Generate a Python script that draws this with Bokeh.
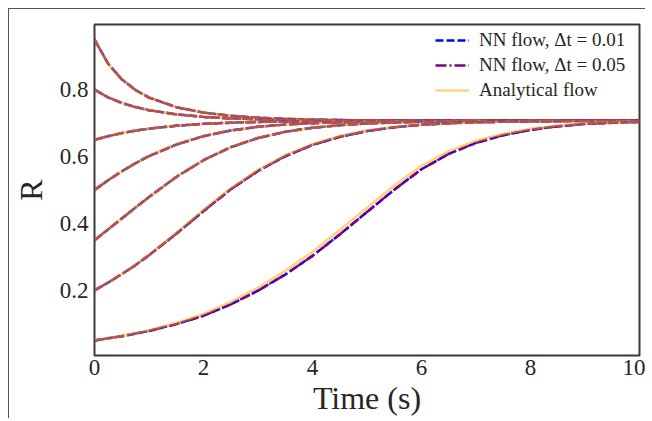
from bokeh.plotting import figure
from bokeh.models import Range1d, Legend, LegendItem, FixedTicker
from bokeh.embed import file_html
from bokeh.resources import INLINE

# ---- data ----
t = [0, 0.25, 0.5, 0.75, 1, 1.5, 2, 2.5, 3, 3.5, 4, 4.5, 5, 5.5, 6, 6.5, 7, 7.5, 8, 8.5, 9, 9.5, 10]

an_a = [0.950, 0.8776, 0.8310, 0.7992, 0.7765, 0.7477, 0.7314, 0.7219, 0.7161, 0.7127, 0.7105, 0.7092, 0.7084, 0.7079, 0.7076, 0.7074, 0.7073, 0.7072, 0.7072, 0.7071, 0.7071, 0.7071, 0.7071]
an_b = [0.8000, 0.7771, 0.7604, 0.7480, 0.7387, 0.7262, 0.7187, 0.7142, 0.7115, 0.7098, 0.7088, 0.7081, 0.7078, 0.7075, 0.7074, 0.7073, 0.7072, 0.7072, 0.7071, 0.7071, 0.7071, 0.7071, 0.7071]
an_c = [0.6500, 0.6610, 0.6701, 0.6775, 0.6835, 0.6922, 0.6978, 0.7013, 0.7035, 0.7049, 0.7057, 0.7063, 0.7066, 0.7068, 0.7069, 0.7070, 0.7070, 0.7071, 0.7071, 0.7071, 0.7071, 0.7071, 0.7071]
an_d = [0.5000, 0.5290, 0.5558, 0.5799, 0.6013, 0.6358, 0.6610, 0.6780, 0.6890, 0.6958, 0.7000, 0.7026, 0.7043, 0.7053, 0.7060, 0.7064, 0.7067, 0.7069, 0.7070, 0.7070, 0.7071, 0.7071, 0.7071]
an_e = [0.3500, 0.3821, 0.4147, 0.4472, 0.4789, 0.5390, 0.5890, 0.6280, 0.6555, 0.6740, 0.6862, 0.6940, 0.6990, 0.7020, 0.7039, 0.7051, 0.7059, 0.7063, 0.7066, 0.7068, 0.7069, 0.7070, 0.7070]
an_f = [0.2000, 0.2231, 0.2482, 0.2760, 0.3060, 0.3710, 0.4400, 0.5050, 0.5600, 0.6040, 0.6370, 0.6610, 0.6775, 0.6885, 0.6952, 0.6996, 0.7024, 0.7042, 0.7053, 0.7059, 0.7064, 0.7067, 0.7068]
an_g = [0.0500, 0.0563, 0.0635, 0.0715, 0.0805, 0.1019, 0.1290, 0.1650, 0.2080, 0.2580, 0.3150, 0.3800, 0.4470, 0.5130, 0.5720, 0.6160, 0.6470, 0.6680, 0.6830, 0.6925, 0.6985, 0.7020, 0.7040]

nn_f = [0.2000, 0.2231, 0.2482, 0.2750, 0.3050, 0.3690, 0.4370, 0.5020, 0.5570, 0.6010, 0.6350, 0.6590, 0.6765, 0.6875, 0.6952, 0.6996, 0.7024, 0.7042, 0.7053, 0.7059, 0.7064, 0.7067, 0.7068]
nn_g = [0.0500, 0.0563, 0.0625, 0.0705, 0.0785, 0.0989, 0.1240, 0.1580, 0.1990, 0.2470, 0.3030, 0.3670, 0.4340, 0.5010, 0.5620, 0.6080, 0.6410, 0.6640, 0.6800, 0.6905, 0.6975, 0.7010, 0.7035]

analytical = [an_a, an_b, an_c, an_d, an_e, an_f, an_g]
nn_01 = [an_a, an_b, an_c, an_d, an_e, nn_f, nn_g]
nn_05 = [an_a, an_b, an_c, an_d, an_e, nn_f, nn_g]

x_ticks = [0, 2, 4, 6, 8, 10]
y_ticks = [0.2, 0.4, 0.6, 0.8]
labels = ["NN flow, \u0394t = 0.01", "NN flow, \u0394t = 0.05", "Analytical flow"]

FONT = "Liberation Serif"
TXT = "#262626"

p = figure(frame_width=545, frame_height=331, output_backend="svg", toolbar_location=None,
           x_range=Range1d(0, 10), y_range=Range1d(0.005, 0.995),
           min_border_left=83, min_border_right=6, min_border_top=15, min_border_bottom=62)
p.styles = {"margin-left": "8px", "margin-top": "8px",
            "border-top": "1px solid #555", "border-left": "1px solid #555"}
p.grid.visible = False
p.outline_line_color = "#3a3a3a"
p.outline_line_width = 2
p.background_fill_color = "white"
p.border_fill_color = "white"

for ax in (p.xaxis[0], p.yaxis[0]):
    ax.axis_line_color = None
    ax.major_tick_line_color = None
    ax.minor_tick_line_color = None
    ax.major_tick_out = 0
    ax.major_tick_in = 0
    ax.minor_tick_out = 0
    ax.minor_tick_in = 0
    ax.major_label_text_font = FONT
    ax.major_label_text_font_size = "23px"
    ax.major_label_text_color = TXT
    ax.axis_label_text_font = FONT
    ax.axis_label_text_font_style = "normal"
    ax.axis_label_text_color = TXT
p.xaxis.ticker = FixedTicker(ticks=x_ticks)
p.yaxis.ticker = FixedTicker(ticks=y_ticks)
p.xaxis.major_label_standoff = 4
p.yaxis.major_label_standoff = 6

p.yaxis.axis_label = "R"
p.yaxis.axis_label_text_font_size = "32px"
p.yaxis.axis_label_standoff = 8

p.xaxis.axis_label = "Time (s)"
p.xaxis.axis_label_text_font_size = "32px"
p.xaxis.axis_label_standoff = 2

r1 = r2 = r3 = None
for a, n1, n2 in zip(analytical, nn_01, nn_05):
    r1 = p.line(t, n1, line_color="blue", line_width=2.5, line_dash="8 3")
    r2 = p.line(t, n2, line_color="purple", line_width=2.5, line_dash="11 3 2 3")
    r3 = p.line(t, a, line_color="orange", line_width=2.7, line_alpha=0.5)

legend = Legend(items=[LegendItem(label=labels[0], renderers=[r1]),
                       LegendItem(label=labels[1], renderers=[r2]),
                       LegendItem(label=labels[2], renderers=[r3])],
                location=(340, 253))
legend.border_line_alpha = 0
legend.background_fill_alpha = 0
legend.label_text_font = FONT
legend.label_text_font_size = "19px"
legend.label_text_color = TXT
legend.glyph_width = 34
legend.glyph_height = 20
legend.label_height = 20
legend.spacing = 3
legend.label_standoff = 10
legend.margin = 0
legend.padding = 1
p.add_layout(legend)

open("out.html", "w").write(file_html(p, INLINE))
